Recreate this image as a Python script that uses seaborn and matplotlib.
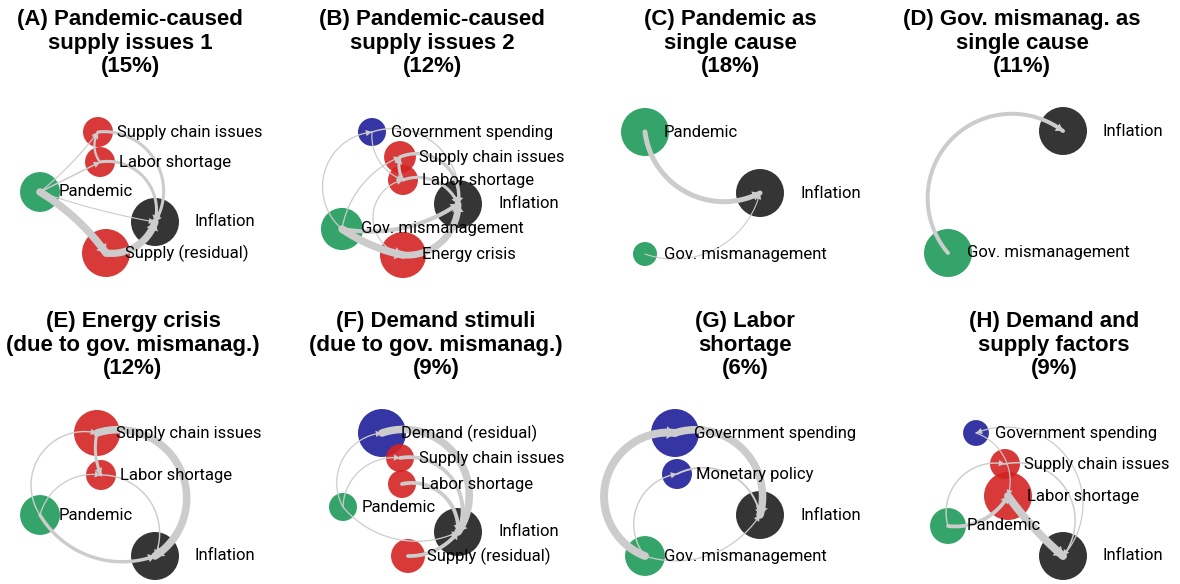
import matplotlib
matplotlib.use("Agg")
import matplotlib.pyplot as plt
from matplotlib import font_manager
import numpy as np
import pandas as pd
import seaborn as sns

# ---- data -----------------------------------------------------------------

titles = [
    "(A) Pandemic-caused\nsupply issues 1\n(15%)",
    "(B) Pandemic-caused\nsupply issues 2\n(12%)",
    "(C) Pandemic as\nsingle cause\n(18%)",
    "(D) Gov. mismanag. as\nsingle cause\n(11%)",
    "(E) Energy crisis\n(due to gov. mismanag.)\n(12%)",
    "(F) Demand stimuli\n(due to gov. mismanag.)\n(9%)",
    "(G) Labor\nshortage\n(6%)",
    "(H) Demand and\nsupply factors\n(9%)",
]

# (A)
a_nodes = ["Supply chain issues", "Labor shortage", "Pandemic", "Inflation", "Supply (residual)"]
a_x = [98, 100, 40, 155, 106]
a_y = [42, 72, 102, 132, 163]
a_size = [0.39, 0.39, 0.69, 1.0, 1.0]
a_from = ["Pandemic", "Pandemic", "Pandemic", "Pandemic", "Supply (residual)",
          "Supply chain issues", "Labor shortage", "Labor shortage"]
a_to = ["Supply chain issues", "Labor shortage", "Inflation", "Supply (residual)", "Inflation",
        "Inflation", "Inflation", "Supply chain issues"]
a_weight = [0.05, 0.1, 0.04, 0.9, 0.85, 0.3, 0.3, 0.2]

# (B)
b_nodes = ["Government spending", "Supply chain issues", "Labor shortage", "Inflation",
           "Gov. mismanagement", "Energy crisis"]
b_x = [77, 105, 108, 163, 47, 108]
b_y = [42, 67, 90, 114, 139, 165]
b_size = [0.34, 0.44, 0.39, 1.0, 0.77, 0.92]
b_from = ["Gov. mismanagement", "Energy crisis", "Gov. mismanagement", "Gov. mismanagement",
          "Government spending", "Government spending", "Gov. mismanagement", "Energy crisis",
          "Labor shortage", "Supply chain issues", "Labor shortage"]
b_to = ["Energy crisis", "Inflation", "Inflation", "Government spending", "Inflation",
        "Labor shortage", "Supply chain issues", "Labor shortage", "Supply chain issues",
        "Inflation", "Inflation"]
b_weight = [0.9, 0.8, 0.45, 0.06, 0.08, 0.05, 0.06, 0.06, 0.3, 0.35, 0.3]

# (C)
c_nodes = ["Pandemic", "Inflation", "Gov. mismanagement"]
c_x = [55, 170, 55]
c_y = [42, 103, 164]
c_size = [1.0, 1.0, 0.25]
c_from = ["Pandemic", "Gov. mismanagement"]
c_to = ["Inflation", "Inflation"]
c_weight = [0.56, 0.04]

# (D)
d_nodes = ["Inflation", "Gov. mismanagement"]
d_x = [178, 63]
d_y = [41, 163]
d_size = [1.0, 1.0]
d_from = ["Gov. mismanagement"]
d_to = ["Inflation"]
d_weight = [0.43]

# (E)
e_nodes = ["Supply chain issues", "Labor shortage", "Pandemic", "Inflation"]
e_x = [97, 101, 40, 155]
e_y = [41, 83, 123, 164]
e_size = [0.92, 0.39, 0.69, 1.0]
e_from = ["Supply chain issues", "Pandemic", "Pandemic", "Pandemic", "Labor shortage",
          "Supply chain issues"]
e_to = ["Inflation", "Supply chain issues", "Labor shortage", "Inflation", "Inflation",
        "Labor shortage"]
e_weight = [0.9, 0.08, 0.06, 0.35, 0.08, 0.3]

# (F)
f_nodes = ["Demand (residual)", "Supply chain issues", "Labor shortage", "Pandemic",
           "Inflation", "Supply (residual)"]
f_x = [87, 105, 107, 48, 163, 113]
f_y = [41, 66, 92, 115, 140, 164]
f_size = [1.0, 0.34, 0.34, 0.34, 1.0, 0.5]
f_from = ["Demand (residual)", "Supply chain issues", "Labor shortage", "Supply (residual)",
          "Pandemic", "Pandemic", "Pandemic"]
f_to = ["Inflation", "Inflation", "Inflation", "Inflation", "Demand (residual)",
        "Supply chain issues", "Inflation"]
f_weight = [0.9, 0.4, 0.4, 0.4, 0.06, 0.06, 0.06]

# (G)
g_nodes = ["Government spending", "Monetary policy", "Inflation", "Gov. mismanagement"]
g_x = [85, 87, 170, 55]
g_y = [41, 82, 123, 164]
g_size = [1.0, 0.39, 1.0, 0.69]
g_from = ["Gov. mismanagement", "Government spending", "Gov. mismanagement", "Monetary policy",
          "Gov. mismanagement"]
g_to = ["Government spending", "Inflation", "Monetary policy", "Inflation", "Inflation"]
g_weight = [0.95, 0.9, 0.08, 0.15, 0.06]

# (H)
h_nodes = ["Government spending", "Supply chain issues", "Labor shortage", "Pandemic", "Inflation"]
h_x = [91, 120, 123, 63, 178]
h_y = [41, 72, 104, 134, 164]
h_size = [0.29, 0.39, 1.0, 0.56, 1.0]
h_from = ["Labor shortage", "Pandemic", "Pandemic", "Inflation", "Supply chain issues",
          "Government spending"]
h_to = ["Inflation", "Labor shortage", "Supply chain issues", "Government spending", "Inflation",
        "Labor shortage"]
h_weight = [0.95, 0.4, 0.08, 0.06, 0.1, 0.05]

node_kind = {
    "Pandemic": "cause", "Gov. mismanagement": "cause", "Inflation": "outcome",
    "Government spending": "demand", "Monetary policy": "demand", "Demand (residual)": "demand",
}

# ---- styling (arc bend per edge, title placement) --------------------------

a_bend = [0.03, 0.0, 0.02, -0.05, 0.18, -0.31, -0.27, -0.15]
b_bend = [0.05, 0.22, 0.1, -0.33, -0.28, 0.17, -0.13, -0.4, -0.1, -0.3, -0.2]
c_bend = [0.26, 0.22]
d_bend = [-0.45]
e_bend = [-0.44, -0.34, -0.19, 0.18, -0.27, 0.08]
f_bend = [-0.36, -0.3, -0.25, 0.12, -0.27, -0.22, 0.17]
g_bend = [-0.44, -0.3, -0.29, -0.25, 0.17]
h_bend = [0.03, 0.15, -0.28, 0.4, -0.35, -0.2]

title_x = [130, 137, 140, 137, 133, 141, 155, 169]

palette = {"cause": "#1f9a5a", "supply": "#d42323", "demand": "#1f1f9a", "outcome": "#1f1f1f"}
edge_color = "#cccccc"

names = {f.name for f in font_manager.fontManager.ttflist}
label_font = "Liberation Sans Narrow" if "Liberation Sans Narrow" in names else "Roboto"
label_size = 14 if label_font == "Liberation Sans Narrow" else 12


def arc_points(p0, p1, bend, n=80):
    # circular arc from p0 to p1; bend = sagitta / chord, + bulges right of travel
    p0 = np.asarray(p0, float)
    p1 = np.asarray(p1, float)
    d = p1 - p0
    c = np.hypot(*d)
    if abs(bend) < 1e-3:
        t = np.linspace(0, 1, n)[:, None]
        return p0 + t * d
    u = d / c
    nrm = np.array([-u[1], u[0]]) * np.sign(bend)
    s = abs(bend) * c
    r = (c ** 2 / 4 + s ** 2) / (2 * s)
    centre = (p0 + p1) / 2 - nrm * (r - s)
    half = np.arctan2(c / 2, r - s)
    t = np.linspace(-half, half, n)
    return centre + r * (np.cos(t)[:, None] * nrm + np.sin(t)[:, None] * u)


def draw_panel(ax, nodes, xs, ys, sizes, src, dst, weights, bends):
    df = pd.DataFrame({"node": nodes, "x": xs, "y": ys, "size": sizes})
    df["kind"] = df["node"].map(lambda n: node_kind.get(n, "supply"))
    sns.scatterplot(data=df, x="x", y="y", hue="kind", palette=palette, size="size",
                    sizes=(0, 1194), size_norm=(0, 1), alpha=0.9, linewidth=0,
                    legend=False, ax=ax, zorder=1)

    pos = dict(zip(nodes, zip(xs, ys)))
    for s, t, w, b in zip(src, dst, weights, bends):
        pts = arc_points(pos[s], pos[t], b)
        lw = (0.8 + 7.5 * w) * 0.72
        ax.plot(pts[:, 0], pts[:, 1], color=edge_color, lw=lw,
                solid_capstyle="round", zorder=2)
        ms = 6
        hw = (lw / 2 + 1.8) / ms
        hl = (4.2 + lw * 0.3) / ms
        ax.annotate("", xy=pts[-1], xytext=pts[-5],
                    arrowprops=dict(arrowstyle=f"-|>,head_length={hl:.2f},head_width={hw:.2f}",
                                    color=edge_color, lw=0, mutation_scale=ms,
                                    shrinkA=0, shrinkB=0),
                    zorder=3)

    for n, x, y in zip(nodes, xs, ys):
        dx = 40 if n == "Inflation" else 19
        ax.text(x + dx, y, n, ha="left", va="center", fontsize=label_size,
                family=label_font, zorder=4)


panels = [
    (a_nodes, a_x, a_y, a_size, a_from, a_to, a_weight, a_bend),
    (b_nodes, b_x, b_y, b_size, b_from, b_to, b_weight, b_bend),
    (c_nodes, c_x, c_y, c_size, c_from, c_to, c_weight, c_bend),
    (d_nodes, d_x, d_y, d_size, d_from, d_to, d_weight, d_bend),
    (e_nodes, e_x, e_y, e_size, e_from, e_to, e_weight, e_bend),
    (f_nodes, f_x, f_y, f_size, f_from, f_to, f_weight, f_bend),
    (g_nodes, g_x, g_y, g_size, g_from, g_to, g_weight, g_bend),
    (h_nodes, h_x, h_y, h_size, h_from, h_to, h_weight, h_bend),
]

W, H = 1180, 584
fig = plt.figure(figsize=(W / 100, H / 100), dpi=100)
row_top = [90, 392]

for i, panel in enumerate(panels):
    col, row = i % 4, i // 4
    top = row_top[row]
    ax = fig.add_axes([col * 295 / W, 1 - (top + 200) / H, 295 / W, 200 / H])
    draw_panel(ax, *panel)
    ax.set_xlim(0, 295)
    ax.set_ylim(200, 0)
    ax.axis("off")
    ax.text(title_x[i], -47, titles[i], ha="center", va="center", multialignment="center",
            fontsize=16, fontweight="bold", family="Liberation Sans", linespacing=1.17)

fig.savefig("out.png", dpi=100)
